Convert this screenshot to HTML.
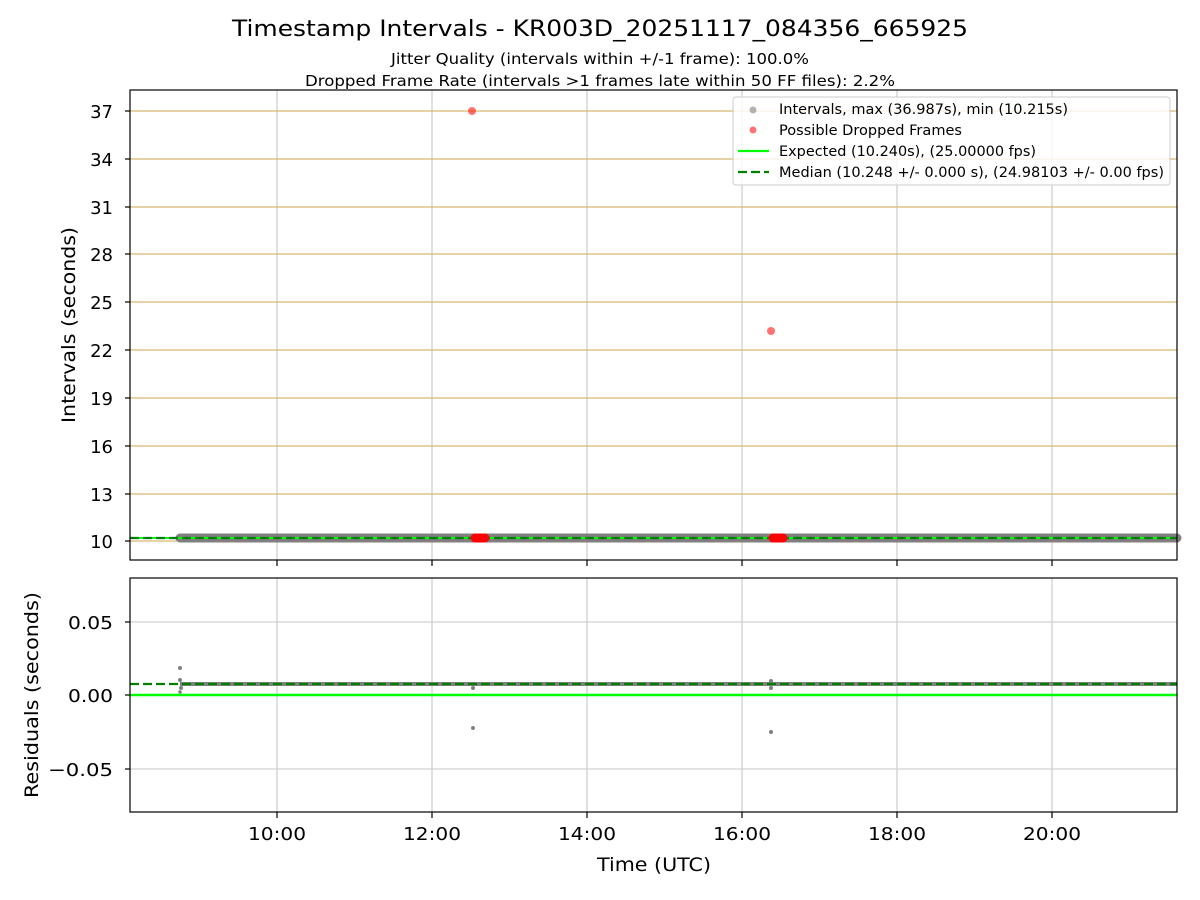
<!DOCTYPE html>
<html><head><meta charset="utf-8"><style>body{margin:0;background:#fff}svg{display:block}text{font-family:"DejaVu Sans","Liberation Sans",sans-serif;fill:#000}</style></head><body>
<svg width="1200" height="900" viewBox="0 0 1200 900" xmlns="http://www.w3.org/2000/svg">
<rect width="1200" height="900" fill="#fff"/>
<text x="600" y="36" font-size="22" text-anchor="middle" textLength="736" lengthAdjust="spacingAndGlyphs">Timestamp Intervals - KR003D_20251117_084356_665925</text>
<text x="600" y="64" font-size="15" text-anchor="middle" textLength="418" lengthAdjust="spacingAndGlyphs">Jitter Quality (intervals within +/-1 frame): 100.0%</text>
<text x="600" y="86" font-size="15" text-anchor="middle" textLength="590" lengthAdjust="spacingAndGlyphs">Dropped Frame Rate (intervals &gt;1 frames late within 50 FF files): 2.2%</text>
<g stroke="#d0d0d0" stroke-width="1.3">
<line x1="277" y1="90" x2="277" y2="560"/><line x1="432" y1="90" x2="432" y2="560"/><line x1="587" y1="90" x2="587" y2="560"/><line x1="742" y1="90" x2="742" y2="560"/><line x1="897" y1="90" x2="897" y2="560"/><line x1="1052" y1="90" x2="1052" y2="560"/>
</g>
<g stroke="#d8b870" stroke-width="1.3">
<line x1="130" y1="111" x2="1177" y2="111"/><line x1="130" y1="159" x2="1177" y2="159"/><line x1="130" y1="207" x2="1177" y2="207"/><line x1="130" y1="254" x2="1177" y2="254"/><line x1="130" y1="302" x2="1177" y2="302"/><line x1="130" y1="350" x2="1177" y2="350"/><line x1="130" y1="398" x2="1177" y2="398"/><line x1="130" y1="446" x2="1177" y2="446"/><line x1="130" y1="494" x2="1177" y2="494"/><line x1="130" y1="541" x2="1177" y2="541"/>
</g>
<line x1="180" y1="538" x2="1177" y2="538" stroke="#808080" stroke-width="9" stroke-linecap="round"/>
<line x1="130" y1="538" x2="1177" y2="538" stroke="#00ff00" stroke-width="2"/>
<line x1="130" y1="538" x2="1177" y2="538" stroke="#008000" stroke-width="2.2" stroke-dasharray="9,4"/>
<line x1="475" y1="538" x2="485" y2="538" stroke="#ff0000" stroke-width="9" stroke-linecap="round"/>
<line x1="773" y1="538" x2="783" y2="538" stroke="#ff0000" stroke-width="9" stroke-linecap="round"/>
<circle cx="472" cy="111" r="4" fill="#ff0000" fill-opacity="0.55"/>
<circle cx="771" cy="331" r="4" fill="#ff0000" fill-opacity="0.55"/>
<rect x="130" y="90" width="1047" height="470" fill="none" stroke="#000" stroke-width="1.2"/>
<g stroke="#000" stroke-width="1.2">
<line x1="125" y1="111" x2="130" y2="111"/><line x1="125" y1="159" x2="130" y2="159"/><line x1="125" y1="207" x2="130" y2="207"/><line x1="125" y1="254" x2="130" y2="254"/><line x1="125" y1="302" x2="130" y2="302"/><line x1="125" y1="350" x2="130" y2="350"/><line x1="125" y1="398" x2="130" y2="398"/><line x1="125" y1="446" x2="130" y2="446"/><line x1="125" y1="494" x2="130" y2="494"/><line x1="125" y1="541" x2="130" y2="541"/>
<line x1="277" y1="560" x2="277" y2="566"/><line x1="432" y1="560" x2="432" y2="566"/><line x1="587" y1="560" x2="587" y2="566"/><line x1="742" y1="560" x2="742" y2="566"/><line x1="897" y1="560" x2="897" y2="566"/><line x1="1052" y1="560" x2="1052" y2="566"/>
</g>
<g font-size="18" text-anchor="end">
<text x="113" y="118">37</text><text x="113" y="166">34</text><text x="113" y="214">31</text><text x="113" y="261">28</text><text x="113" y="309">25</text><text x="113" y="357">22</text><text x="113" y="405">19</text><text x="113" y="453">16</text><text x="113" y="501">13</text><text x="113" y="548">10</text>
</g>
<text transform="translate(75,325) rotate(-90)" font-size="19" text-anchor="middle" textLength="196" lengthAdjust="spacingAndGlyphs">Intervals (seconds)</text>
<rect x="733" y="97" width="437" height="88" rx="3" fill="#fff" fill-opacity="0.8" stroke="#ccc"/>
<circle cx="753" cy="110" r="3.5" fill="#808080" fill-opacity="0.6"/>
<circle cx="753" cy="130" r="3.5" fill="#ff0000" fill-opacity="0.55"/>
<line x1="738" y1="151" x2="769" y2="151" stroke="#00ff00" stroke-width="2.2"/>
<line x1="738" y1="172" x2="769" y2="172" stroke="#008000" stroke-width="2.2" stroke-dasharray="9,4"/>
<g font-size="14">
<text x="779" y="114" textLength="289" lengthAdjust="spacingAndGlyphs">Intervals, max (36.987s), min (10.215s)</text>
<text x="779" y="135" textLength="183" lengthAdjust="spacingAndGlyphs">Possible Dropped Frames</text>
<text x="779" y="156" textLength="257" lengthAdjust="spacingAndGlyphs">Expected (10.240s), (25.00000 fps)</text>
<text x="779" y="177" textLength="385" lengthAdjust="spacingAndGlyphs">Median (10.248 +/- 0.000 s), (24.98103 +/- 0.00 fps)</text>
</g>
<g stroke="#d0d0d0" stroke-width="1.3">
<line x1="277" y1="578" x2="277" y2="812"/><line x1="432" y1="578" x2="432" y2="812"/><line x1="587" y1="578" x2="587" y2="812"/><line x1="742" y1="578" x2="742" y2="812"/><line x1="897" y1="578" x2="897" y2="812"/><line x1="1052" y1="578" x2="1052" y2="812"/>
<line x1="130" y1="622" x2="1177" y2="622"/><line x1="130" y1="769" x2="1177" y2="769"/>
</g>
<line x1="180" y1="684" x2="1177" y2="684" stroke="#808080" stroke-width="4"/>
<g fill="#808080">
<circle cx="180" cy="668" r="2"/><circle cx="180" cy="680" r="2"/><circle cx="181" cy="688" r="2"/><circle cx="180" cy="692" r="1.8"/><circle cx="473" cy="728" r="2"/><circle cx="473" cy="688" r="2"/><circle cx="771" cy="732" r="2"/><circle cx="771" cy="688" r="2"/><circle cx="771" cy="681" r="2"/>
</g>
<line x1="130" y1="695" x2="1177" y2="695" stroke="#00ff00" stroke-width="2.5"/>
<line x1="130" y1="684" x2="1177" y2="684" stroke="#008000" stroke-width="2.2" stroke-dasharray="9,4"/>
<rect x="130" y="578" width="1047" height="234" fill="none" stroke="#000" stroke-width="1.2"/>
<g stroke="#000" stroke-width="1.2">
<line x1="125" y1="622" x2="130" y2="622"/><line x1="125" y1="695" x2="130" y2="695"/><line x1="125" y1="769" x2="130" y2="769"/>
<line x1="277" y1="812" x2="277" y2="818"/><line x1="432" y1="812" x2="432" y2="818"/><line x1="587" y1="812" x2="587" y2="818"/><line x1="742" y1="812" x2="742" y2="818"/><line x1="897" y1="812" x2="897" y2="818"/><line x1="1052" y1="812" x2="1052" y2="818"/>
</g>
<g font-size="18" text-anchor="end">
<text x="113" y="629" textLength="45" lengthAdjust="spacingAndGlyphs">0.05</text><text x="113" y="702" textLength="45" lengthAdjust="spacingAndGlyphs">0.00</text><text x="113" y="776" textLength="65" lengthAdjust="spacingAndGlyphs">−0.05</text>
</g>
<g font-size="18" text-anchor="middle">
<text x="277" y="840" textLength="58" lengthAdjust="spacingAndGlyphs">10:00</text><text x="432" y="840" textLength="58" lengthAdjust="spacingAndGlyphs">12:00</text><text x="587" y="840" textLength="58" lengthAdjust="spacingAndGlyphs">14:00</text><text x="742" y="840" textLength="58" lengthAdjust="spacingAndGlyphs">16:00</text><text x="897" y="840" textLength="58" lengthAdjust="spacingAndGlyphs">18:00</text><text x="1052" y="840" textLength="58" lengthAdjust="spacingAndGlyphs">20:00</text>
</g>
<text x="654" y="871" font-size="19" text-anchor="middle" textLength="114" lengthAdjust="spacingAndGlyphs">Time (UTC)</text>
<text transform="translate(38,695) rotate(-90)" font-size="19" text-anchor="middle" textLength="206" lengthAdjust="spacingAndGlyphs">Residuals (seconds)</text>
</svg>
</body></html>
